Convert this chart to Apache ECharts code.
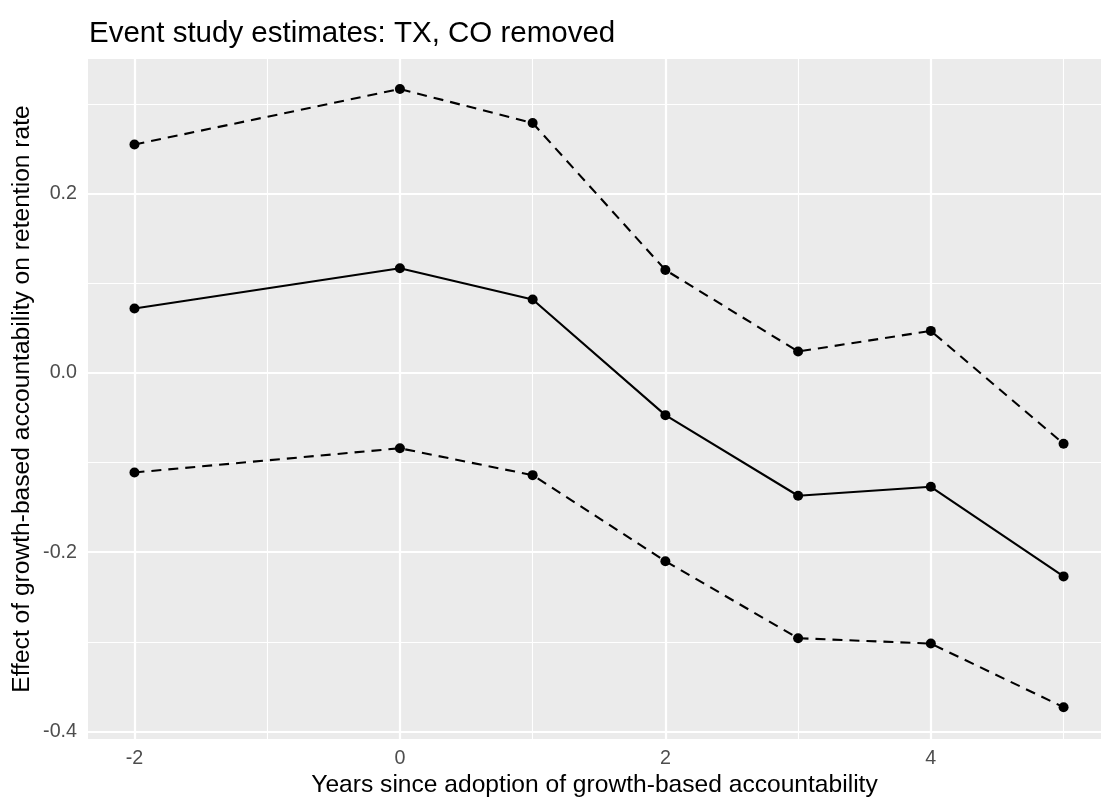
<!DOCTYPE html>
<html>
<head>
<meta charset="utf-8">
<script src="https://cdn.jsdelivr.net/npm/echarts@6/dist/echarts.min.js"></script>
<style>
  html, body { margin: 0; padding: 0; background: #ffffff; }
  #chart { width: 1101px; height: 797px; }
</style>
</head>
<body>
<div id="chart"></div>
<script>
// Years relative to adoption, and the event-study point estimates with CI bounds
const years = [-2, 0, 1, 2, 3, 4, 5];
const estimate = [0.072, 0.117, 0.082, -0.047, -0.137, -0.127, -0.227];
const upperBound = [0.255, 0.317, 0.279, 0.115, 0.024, 0.047, -0.079];
const lowerBound = [-0.111, -0.084, -0.114, -0.210, -0.296, -0.302, -0.373];

// Axis tick labels and grid positions
const xTicks = [-2, 0, 2, 4];
const xMinor = [-1, 1, 3, 5];
const yTicks = [-0.4, -0.2, 0.0, 0.2];
const yMinor = [-0.3, -0.1, 0.1, 0.3];

const FONT = "'Liberation Sans', Arial, Helvetica, sans-serif";

function pairs(ys) {
  return years.map((x, i) => [x, ys[i]]);
}

const gridLines = [];
xTicks.forEach(v => gridLines.push({ xAxis: v, lineStyle: { width: 2.2 } }));
xMinor.forEach(v => gridLines.push({ xAxis: v, lineStyle: { width: 1.1 } }));
yTicks.forEach(v => gridLines.push({ yAxis: v, lineStyle: { width: 2.2 } }));
yMinor.forEach(v => gridLines.push({ yAxis: v, lineStyle: { width: 1.1 } }));

const chart = echarts.init(document.getElementById('chart'), null, { renderer: 'canvas' });

function lineSeries(name, ys, dashed) {
  return {
    name: name,
    type: 'line',
    data: pairs(ys),
    z: 5,
    symbol: 'circle',
    symbolSize: 10,
    showSymbol: true,
    itemStyle: { color: '#000000' },
    lineStyle: {
      color: '#000000',
      width: 2.1,
      type: dashed ? [10, 7] : 'solid'
    },
    emphasis: { disabled: true },
    animation: false
  };
}

chart.setOption({
  animation: false,
  textStyle: { fontFamily: FONT },
  title: {
    text: 'Event study estimates: TX, CO removed',
    left: 84,
    top: 14,
    textStyle: { fontFamily: FONT, fontSize: 29.5, fontWeight: 'normal', color: '#000000' }
  },
  grid: {
    left: 88,
    top: 59,
    right: 0,
    height: 680,
    outerBoundsMode: 'none',
    containLabel: false,
    show: true,
    backgroundColor: '#EBEBEB',
    borderWidth: 0
  },
  xAxis: {
    type: 'value',
    min: -2.35,
    max: 5.282,
    name: 'Years since adoption of growth-based accountability',
    nameLocation: 'middle',
    nameGap: 34,
    nameMoveOverlap: false,
    nameTextStyle: { fontFamily: FONT, fontSize: 24.6, color: '#000000' },
    axisLine: { show: false },
    splitLine: { show: false },
    axisTick: {
      show: true,
      customValues: xTicks,
      length: 5,
      lineStyle: { color: '#333333', width: 2 }
    },
    axisLabel: {
      customValues: xTicks,
      margin: 10,
      fontFamily: FONT,
      fontSize: 19.7,
      color: '#4D4D4D'
    }
  },
  yAxis: {
    type: 'value',
    min: -0.4085,
    max: 0.3505,
    name: 'Effect of growth-based accountability on retention rate',
    nameLocation: 'middle',
    nameGap: 53,
    nameMoveOverlap: false,
    nameTextStyle: { fontFamily: FONT, fontSize: 24.6, color: '#000000' },
    axisLine: { show: false },
    splitLine: { show: false },
    axisTick: {
      show: true,
      customValues: yTicks,
      length: 5,
      lineStyle: { color: '#333333', width: 2 }
    },
    axisLabel: {
      customValues: yTicks,
      margin: 11,
      fontFamily: FONT,
      fontSize: 19.7,
      color: '#4D4D4D',
      formatter: v => Number(v).toFixed(1)
    }
  },
  series: [
    {
      name: 'grid',
      type: 'line',
      data: [],
      z: 1,
      silent: true,
      markLine: {
        silent: true,
        symbol: ['none', 'none'],
        label: { show: false },
        lineStyle: { color: '#FFFFFF', type: 'solid' },
        emphasis: { disabled: true },
        animation: false,
        data: gridLines
      }
    },
    lineSeries('Upper bound', upperBound, true),
    lineSeries('Estimate', estimate, false),
    lineSeries('Lower bound', lowerBound, true)
  ]
});
</script>
</body>
</html>
